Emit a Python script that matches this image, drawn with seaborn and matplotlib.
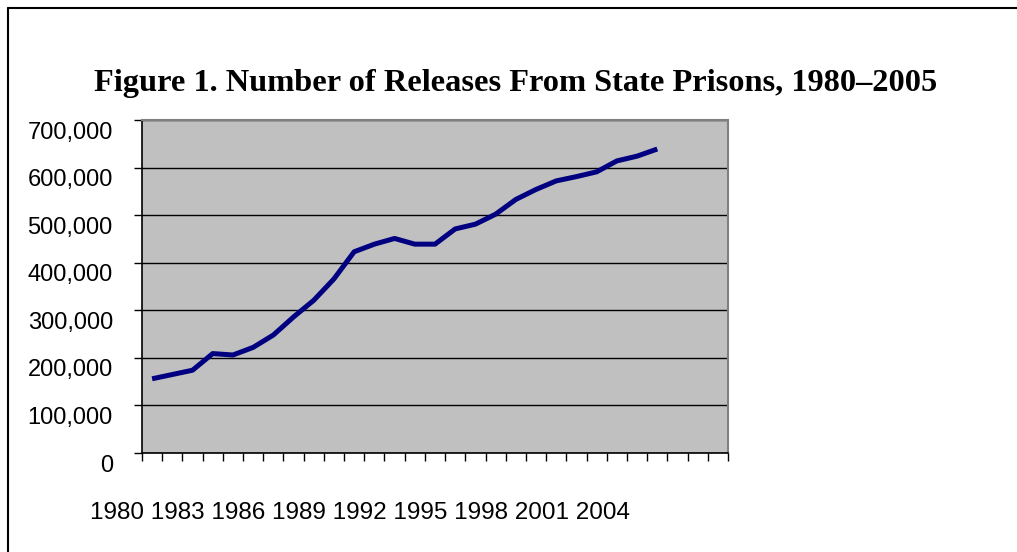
import matplotlib
matplotlib.use("Agg")
import matplotlib.pyplot as plt
import matplotlib.transforms as mtransforms
from matplotlib.lines import Line2D
import seaborn as sns
import pandas as pd
import numpy as np

years = list(range(1980, 2006))
releases = [156000, 165000, 174000, 209000, 206000, 222000, 248000, 286000,
            321000, 366000, 423000, 439000, 451000, 439000, 439000, 471000,
            481000, 502000, 533000, 554000, 572000, 581000, 591000, 614000,
            624000, 639000]
n_categories = 29
year_labels = ["1980", "1983", "1986", "1989", "1992", "1995", "1998", "2001", "2004"]
y_ticks = [0, 100000, 200000, 300000, 400000, 500000, 600000, 700000]
title = "Figure 1. Number of Releases From State Prisons, 1980\u20132005"

df = pd.DataFrame({"year": years, "releases": releases})
df["pos"] = df["year"] - years[0]

sns.set_theme(style="white")
plt.rcParams["font.family"] = ["Liberation Sans", "DejaVu Sans"]
plt.rcParams["text.color"] = "black"
plt.rcParams["ytick.color"] = "black"
plt.rcParams["xtick.color"] = "black"

fig = plt.figure(figsize=(10.17, 5.52), dpi=100)
ax = fig.add_axes([142/1017, 99/552, 586/1017, 333/552])
ax.set_facecolor("#C0C0C0")

sns.lineplot(data=df, x="pos", y="releases", ax=ax, color="#000080",
             linewidth=3.6, solid_capstyle="butt", zorder=3)

ax.set_xlim(-0.5, n_categories - 0.5)
ax.set_ylim(0, 700000)
ax.set_yticks(y_ticks)
ax.set_yticklabels([f"{v:,}" for v in y_ticks], fontsize=17, color="black")
ax.yaxis.grid(True, color="black", linewidth=1)
ax.set_axisbelow(True)
ax.set_xticks(np.arange(-0.5, n_categories, 1.0))
ax.set_xticklabels([])
ax.tick_params(axis="x", direction="out", length=6, width=1, color="black", bottom=True)
ax.tick_params(axis="y", direction="out", length=6, width=1, color="black", left=True, pad=15)
ax.set_xlabel("")
ax.set_ylabel("")

offset = mtransforms.ScaledTranslation(0, -10/100, fig.dpi_scale_trans)
for lbl in ax.get_yticklabels():
    lbl.set_transform(lbl.get_transform() + offset)

for side in ["left", "bottom"]:
    ax.spines[side].set_color("black")
    ax.spines[side].set_linewidth(1.2)
for side in ["right", "top"]:
    ax.spines[side].set_color("#808080")
    ax.spines[side].set_linewidth(1.5)

fig.text(0.507, 1 - 84/552, title, ha="center", va="center", color="black",
         fontsize=23.3, fontweight="bold", family=["Liberation Serif", "DejaVu Serif"])

fig.text(90/1017, 1 - 513/552, " ".join(year_labels), ha="left", va="center",
         fontsize=17.5, color="black")

fig.add_artist(Line2D([8/1017, 8/1017], [0, 1 - 8/552], transform=fig.transFigure,
                      color="black", linewidth=1.5))
fig.add_artist(Line2D([8/1017, 1], [1 - 8/552, 1 - 8/552], transform=fig.transFigure,
                      color="black", linewidth=1.5))

fig.savefig("out.png", dpi=100)
